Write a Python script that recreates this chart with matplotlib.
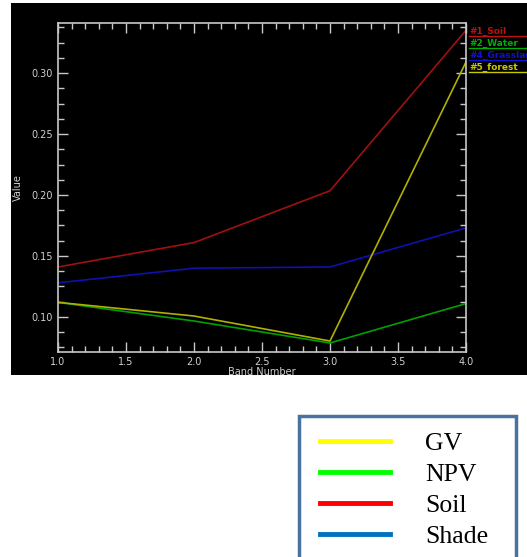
import matplotlib
matplotlib.use("Agg")
import matplotlib.pyplot as plt
from matplotlib.lines import Line2D
from matplotlib.patches import Rectangle
from matplotlib.ticker import MultipleLocator, AutoMinorLocator

# band numbers and spectra
bands = [1.0, 2.0, 3.0, 4.0]
soil = [0.141, 0.161, 0.2035, 0.335]
water = [0.112, 0.0967, 0.0787, 0.111]
grassland = [0.128, 0.140, 0.141, 0.173]
forest = [0.112, 0.1008, 0.0803, 0.309]

series_names = ["#1_Soil", "#2_Water", "#4_Grassland", "#5_forest"]
series_colors = ["#a01010", "#00a000", "#1010b0", "#b0b000"]
text_colors = ["#c01010", "#00b000", "#1010d0", "#c8c800"]

key_names = ["GV", "NPV", "Soil", "Shade"]
key_colors = ["#ffff00", "#00ff00", "#ff0000", "#0070c0"]

W, H = 527, 557
fig = plt.figure(figsize=(W / 100, H / 100), dpi=100)
fig.patch.set_facecolor("white")

# black screenshot panel
bg = fig.add_axes([11 / W, 1 - 375 / H, (W - 11) / W, (375 - 3) / H])
bg.set_facecolor("black")
bg.set_xticks([])
bg.set_yticks([])
for s in bg.spines.values():
    s.set_visible(False)

ax = fig.add_axes([58 / W, 1 - 352 / H, (466 - 58) / W, (352 - 23) / H])
ax.set_facecolor("black")
for y, c in zip([soil, water, grassland, forest], series_colors):
    ax.plot(bands, y, color=c, lw=1.2)

ax.set_xlim(1.0, 4.0)
ax.set_ylim(0.0713, 0.341)
ax.xaxis.set_major_locator(MultipleLocator(0.5))
ax.xaxis.set_minor_locator(AutoMinorLocator(5))
ax.yaxis.set_major_locator(MultipleLocator(0.05))
ax.yaxis.set_minor_locator(AutoMinorLocator(4))
ax.tick_params(which="both", direction="in", colors="#c8c8c8", top=True, right=True,
               labelsize=7, labelcolor="#d0d0d0", width=1)
ax.tick_params(which="major", length=7)
ax.tick_params(which="minor", length=4)
ax.xaxis.set_major_formatter(plt.FuncFormatter(lambda v, p: f"{v:.1f}"))
ax.yaxis.set_major_formatter(plt.FuncFormatter(lambda v, p: f"{v:.2f}"))
for s in ax.spines.values():
    s.set_color("#c8c8c8")
    s.set_linewidth(1.2)
ax.set_xlabel("Band Number", color="#d0d0d0", fontsize=7, labelpad=0)
ax.set_ylabel("Value", color="#d0d0d0", fontsize=7, labelpad=6)

# IDL style legend at the right side
for i, (name, c) in enumerate(zip(series_names, text_colors)):
    fig.text(469 / W, 1 - (31 + i * 12) / H, name, color=c, fontsize=6.5,
             fontweight="bold", va="center", ha="left")
    fig.add_artist(Line2D([469 / W, 1.0], [1 - (36 + i * 12) / H] * 2,
                          color=c, lw=1, transform=fig.transFigure))

# white key box below
fig.add_artist(Rectangle((299 / W, -0.02), (516 - 299) / W, (H - 416) / H + 0.02,
                         transform=fig.transFigure, facecolor="white",
                         edgecolor="#4a72a0", lw=2.5))
handles = [Line2D([], [], color=c, lw=3.5) for c in key_colors]
fig.legend(handles, key_names, loc="upper left", bbox_to_anchor=(297 / W, 1 - 409 / H),
           frameon=False, prop={"family": "Liberation Serif", "size": 18.5},
           handlelength=2.7, handletextpad=1.4, labelspacing=0.31)

fig.savefig("out.png", dpi=100, facecolor="white")
